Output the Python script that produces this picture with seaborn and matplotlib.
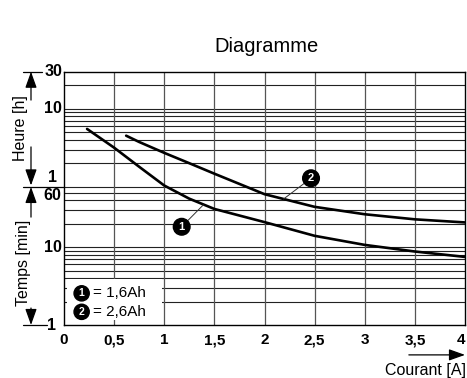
import matplotlib
matplotlib.use("Agg")
import matplotlib.pyplot as plt
import matplotlib.transforms as mtransforms
from matplotlib.patches import Rectangle
from matplotlib.ticker import NullLocator
import seaborn as sns
import pandas as pd

# values: current [A] -> time [min]
current_16 = [0.23, 0.5, 0.75, 1.0, 1.25, 1.5, 2.0, 2.5, 3.0, 3.5, 4.0]
time_16 = [331, 190, 108, 62, 42, 31, 21, 14, 10.7, 8.8, 7.5]
current_26 = [0.62, 0.75, 1.0, 1.25, 1.5, 1.75, 2.0, 2.5, 3.0, 3.5, 4.0]
time_26 = [271, 225, 163, 120, 88, 65, 48, 33, 26.5, 22.8, 20.8]

x_ticks = [0, 0.5, 1, 1.5, 2, 2.5, 3, 3.5, 4]
x_tick_labels = ["0", "0,5", "1", "1,5", "2", "2,5", "3", "3,5", "4"]
min_grid = [2, 3, 4, 5, 6, 7, 8, 9, 10, 20, 30, 40, 50, 60]
hour_grid = [2, 3, 4, 5, 6, 7, 8, 9, 10, 20]

df = pd.concat([
    pd.DataFrame({"current": current_16, "time": time_16, "capacity": "1,6Ah"}),
    pd.DataFrame({"current": current_26, "time": time_26, "capacity": "2,6Ah"}),
])

sns.set_theme(style="white")
plt.rcParams["font.family"] = ["Liberation Sans", "DejaVu Sans"]

fig = plt.figure(figsize=(4.67, 3.78), dpi=100)
ax = fig.add_axes([64 / 467, 1 - 325 / 378, 401 / 467, 253.3 / 378])

sns.lineplot(data=df, x="current", y="time", hue="capacity",
             palette=["black", "black"], legend=False, linewidth=1.9,
             estimator=None, sort=False, ax=ax, zorder=3)

ax.set_yscale("log")
ax.set_ylim(1, 1800)
ax.set_xlim(0, 4)

# grid
for v in min_grid + [h * 60 for h in hour_grid]:
    ax.axhline(v, color="#222222", lw=0.8, zorder=1)
for x in x_ticks[1:-1]:
    ax.axvline(x, color="#555555", lw=0.9, zorder=1)

for s in ax.spines.values():
    s.set_color("black")
    s.set_linewidth(1.0)

ax.set_xticks(x_ticks, x_tick_labels, fontweight="bold", fontsize=11)
ax.tick_params(axis="x", length=0, pad=6, colors="black")
ax.get_xticklabels()[-1].set_ha("right")
ax.set_yticks([])
ax.yaxis.set_minor_locator(NullLocator())
ax.set_xlabel("")
ax.set_ylabel("")

# y labels (hours on top, minutes below)
trans = mtransforms.blended_transform_factory(ax.transAxes, ax.transData)
y_labels = [(1800, "30", -0.005, 0), (600, "10", -0.005, 0),
            (60, "1", -0.017, 6.8), (60, "60", -0.006, -6.5),
            (10, "10", -0.006, 0), (1, "1", -0.02, 0)]
for v, lab, xo, dy in y_labels:
    ax.annotate(lab, xy=(xo, v), xycoords=trans, xytext=(0, dy),
                textcoords="offset points", ha="right", va="center",
                fontweight="bold", fontsize=11.5, color="black")

for v, x_end in [(1800, -0.055), (60, 0.0), (1, -0.042)]:
    ax.plot([-0.102, x_end], [v, v], transform=trans, clip_on=False,
            color="black", lw=0.9)

arrow = dict(arrowstyle="-|>,head_length=0.7,head_width=0.25", color="black",
             lw=0.9, mutation_scale=14, shrinkA=0, shrinkB=0)
xa = -0.0823
for y0, y1 in [(0.888, 1.0), (0.703, 0.551), (0.426, 0.545), (0.067, 0.0)]:
    ax.annotate("", xy=(xa, y1), xytext=(xa, y0), xycoords="axes fraction",
                arrowprops=arrow, annotation_clip=False)
ax.text(-0.108, 0.778, "Heure [h]", rotation=90, transform=ax.transAxes,
        ha="center", va="center", fontsize=11.5, color="black")
ax.text(-0.102, 0.245, "Temps [min]", rotation=90, transform=ax.transAxes,
        ha="center", va="center", fontsize=11.5, color="black")

# x axis arrow
ax.annotate("", xy=(1.0, -0.118), xytext=(0.86, -0.118), xycoords="axes fraction",
            arrowprops=arrow, annotation_clip=False)
ax.text(1.002, -0.178, "Courant [A]", transform=ax.transAxes, ha="right",
        va="center", fontsize=11.5, color="black")

# legend box
ax.add_patch(Rectangle((0.0075, 0.02), 0.2365, 0.163, transform=ax.transAxes,
                       facecolor="white", edgecolor="none", zorder=2))
for yy, num, lab in [(0.125, "1", "= 1,6Ah"), (0.052, "2", "= 2,6Ah")]:
    ax.text(0.044, yy, num, transform=ax.transAxes, color="white", fontsize=7.5,
            fontweight="bold", ha="center", va="center", zorder=4,
            bbox=dict(boxstyle="circle,pad=0.25", fc="black", ec="black"))
    ax.text(0.072, yy, lab, transform=ax.transAxes, fontsize=11,
            ha="left", va="center", color="black", zorder=4)

# numbered curve markers
for num, xy, xyt in [("1", (1.39, 35), (1.174, 18.3)), ("2", (2.19, 41.6), (2.464, 76.9))]:
    ax.annotate(num, xy=xy, xytext=xyt, color="white", fontsize=8,
                fontweight="bold", ha="center", va="center", zorder=5,
                bbox=dict(boxstyle="circle,pad=0.3", fc="black", ec="black"),
                arrowprops=dict(arrowstyle="-", color="#333333", lw=0.7,
                                shrinkA=0, shrinkB=0))

fig.text(267 / 467, 1 - 52 / 378, "Diagramme", ha="center", va="baseline",
         fontsize=14.5, color="black")

fig.savefig("out.png", dpi=100)
